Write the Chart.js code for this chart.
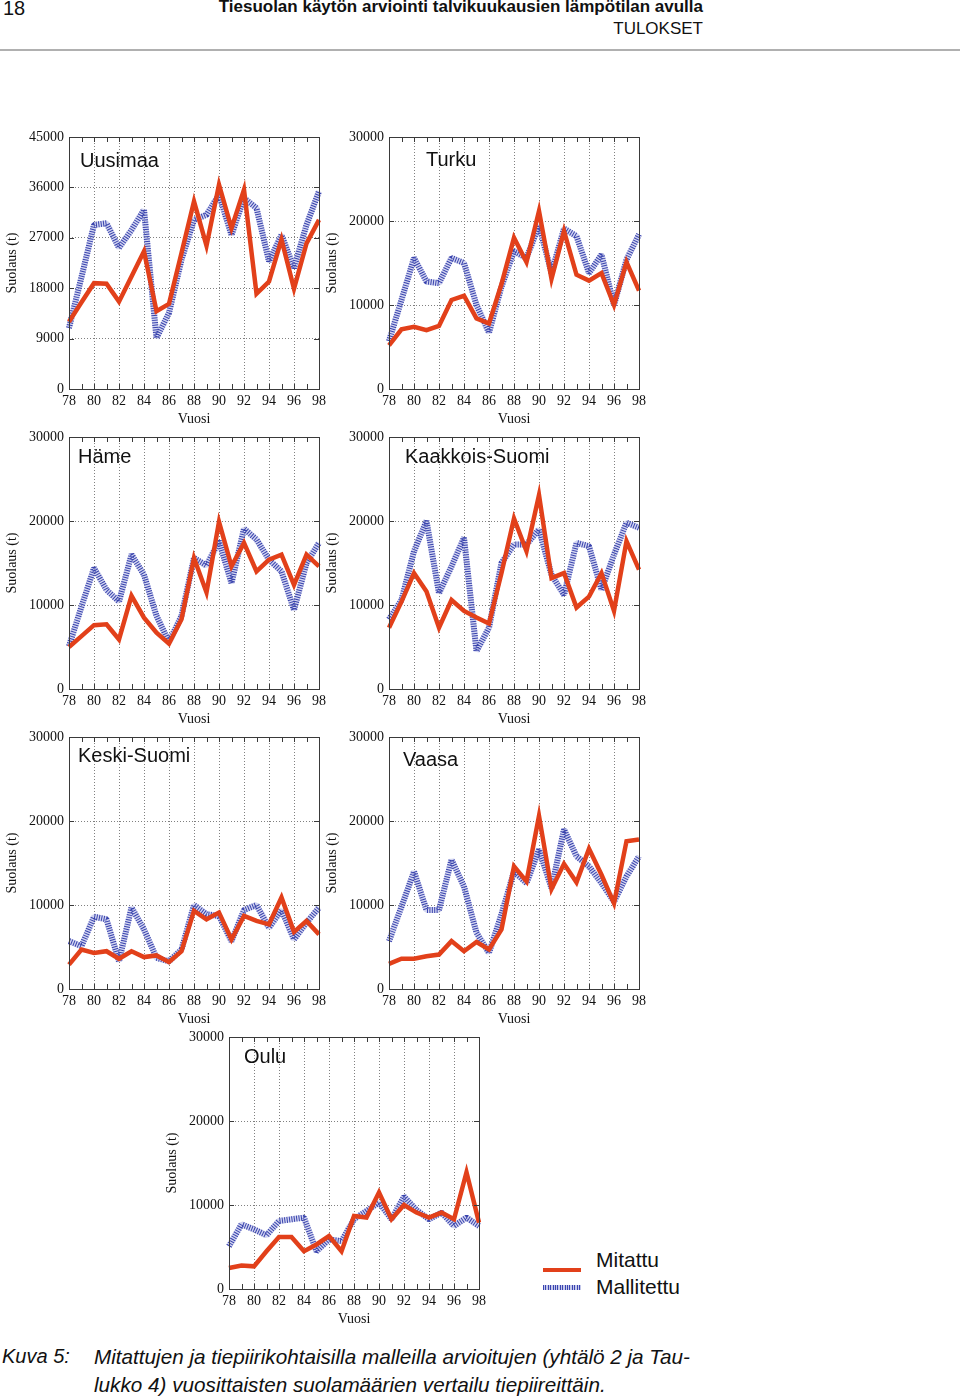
<!DOCTYPE html>
<html lang="fi">
<head>
<meta charset="utf-8">
<script src="https://cdn.jsdelivr.net/npm/chart.js@4.4.1/dist/chart.umd.min.js"></script>
<style>
  body { margin: 0; width: 960px; height: 1397px; position: relative; background: #fff; overflow: hidden;
         font-family: 'Liberation Sans', Arial, sans-serif; color: #111; }
  .teksti { position: absolute; white-space: nowrap; }
  .kapea { font-family: 'Liberation Sans Narrow', 'Liberation Sans', Arial, sans-serif; }
  canvas { position: absolute; }
</style>
</head>
<body>
<div class="teksti kapea" style="left:3px;top:-3px;font-size:20px;">18</div>
<div class="teksti kapea" style="right:257px;top:-3px;font-size:17px;font-weight:bold;">Tiesuolan käytön arviointi talvikuukausien lämpötilan avulla</div>
<div class="teksti kapea" style="right:257px;top:19px;font-size:17px;">TULOKSET</div>
<div style="position:absolute;left:0;top:49px;width:960px;height:2px;background:#b0b0b0;"></div>

<div id="kaaviot"></div>

<!-- selite -->
<div style="position:absolute;left:543px;top:1268px;width:38px;height:4px;background:#e2401a;"></div>
<div style="position:absolute;left:543px;top:1285px;width:38px;height:5px;background:repeating-linear-gradient(90deg,#3a44b0 0 1px,#c4c8ea 1px 2.4px);"></div>
<div class="teksti" style="left:596px;top:1248px;font-size:21px;">Mitattu</div>
<div class="teksti" style="left:596px;top:1275px;width:83px;overflow:hidden;font-size:21px;">Mallitettu</div>

<div class="teksti kapea" style="left:2px;top:1345px;font-size:20px;font-style:italic;">Kuva 5:</div>
<div class="teksti kapea" style="left:94px;top:1345px;font-size:20.7px;font-style:italic;">Mitattujen ja tiepiirikohtaisilla malleilla arvioitujen (yhtälö 2 ja Tau-</div>
<div class="teksti kapea" style="left:94px;top:1373px;font-size:20.7px;font-style:italic;">lukko 4) vuosittaisten suolamäärien vertailu tiepiireittäin.</div>

<script>
// vuodet (x-akseli)
const vuodet = ['78','79','80','81','82','83','84','85','86','87','88','89','90','91','92','93','94','95','96','97','98'];

// Uusimaa
const uusimaaMitattu    = [12000,15500,18900,18800,15600,20100,24600,13900,15200,24300,33500,25600,36500,28700,35600,17000,19200,26700,17900,26000,30200];
const uusimaaMallitettu = [10900,20000,29300,29600,25200,28400,32000, 9100,13600,23100,30200,31100,34700,27500,34100,32300,22800,27500,21600,29300,35300];

// Turku
const turkuMitattu    = [5200,7100,7400,7000,7500,10600,11100,8400,7800,12500,18000,15100,21200,13100,18800,13600,12900,13800,10000,15100,11700];
const turkuMallitettu = [5700,10600,15600,12800,12600,15600,15000,10000,6700,12200,16400,15600,19500,13800,19100,18200,13800,16000,10000,15400,18400];

// Häme
const hameMitattu    = [5000,6300,7600,7700,5900,11100,8500,6700,5400,8300,15600,11500,19900,14600,17400,14000,15400,16000,12400,16000,14600];
const hameMallitettu = [5100,9800,14400,11800,10400,16000,13600,8700,5600,8700,15600,14700,17600,12600,19100,17800,15400,14000,9400,15000,17400];

// Kaakkois-Suomi
const kaakkoisMitattu    = [7300,10400,13800,11600,7300,10600,9300,8500,7800,13800,20300,16400,23100,13200,13800,9700,11000,13800,9300,17600,14200];
const kaakkoisMallitettu = [8300,10600,16400,20000,11400,14600,18000,4500,7300,15000,17200,17200,19000,13600,11200,17400,17000,11800,16000,19800,19200];

// Keski-Suomi
const keskiMitattu    = [2900,4700,4300,4500,3600,4500,3800,4000,3200,4500,9300,8300,9100,5900,8700,8100,7700,10900,6800,8100,6500];
const keskiMallitettu = [5700,5100,8600,8300,3300,9700,7100,3700,3300,4700,10000,8900,8700,5700,9400,10000,7300,9400,5900,7900,9700];

// Vaasa
const vaasaMitattu    = [3000,3600,3600,3900,4100,5700,4500,5600,4700,7100,14600,12800,20600,11900,14900,12700,16700,13600,10200,17600,17800];
const vaasaMallitettu = [5700,9800,14000,9400,9400,15400,12200,6700,4300,8900,14000,12600,16600,12000,19000,15800,14600,12600,10400,13400,15800];

// Oulu
const ouluMitattu    = [2500,2800,2700,4500,6200,6200,4500,5300,6300,4500,8700,8500,11500,8300,10000,9100,8500,9100,8300,13900,7900];
const ouluMallitettu = [5100,7700,7100,6400,8100,8300,8500,4500,5900,5700,8300,9300,10300,8300,11000,9400,8300,9100,7500,8500,7500];

const paneelit = [
  { nimi: 'Uusimaa', mitattu: uusimaaMitattu, mallitettu: uusimaaMallitettu, yMax: 45000, yAskel: 9000, vasen: 0, yla: 120, dx: 11, dy: 24 },
  { nimi: 'Turku', mitattu: turkuMitattu, mallitettu: turkuMallitettu, yMax: 30000, yAskel: 10000, vasen: 320, yla: 120, dx: 37, dy: 23 },
  { nimi: 'Häme', mitattu: hameMitattu, mallitettu: hameMallitettu, yMax: 30000, yAskel: 10000, vasen: 0, yla: 420, dx: 9, dy: 20 },
  { nimi: 'Kaakkois-Suomi', mitattu: kaakkoisMitattu, mallitettu: kaakkoisMallitettu, yMax: 30000, yAskel: 10000, vasen: 320, yla: 420, dx: 16, dy: 20 },
  { nimi: 'Keski-Suomi', mitattu: keskiMitattu, mallitettu: keskiMallitettu, yMax: 30000, yAskel: 10000, vasen: 0, yla: 720, dx: 9, dy: 19 },
  { nimi: 'Vaasa', mitattu: vaasaMitattu, mallitettu: vaasaMallitettu, yMax: 30000, yAskel: 10000, vasen: 320, yla: 720, dx: 14, dy: 23 },
  { nimi: 'Oulu', mitattu: ouluMitattu, mallitettu: ouluMallitettu, yMax: 30000, yAskel: 10000, vasen: 160, yla: 1020, dx: 15, dy: 20 }
];

const serif = "'Liberation Serif', 'Times New Roman', serif";

// kehys, sisäänpäin osoittavat merkit ja paneelin nimi
const kehysPlugin = {
  id: 'kehys',
  afterDraw(chart, args, opts) {
    const { ctx, chartArea: a, scales: { x, y } } = chart;
    ctx.save();
    ctx.strokeStyle = '#3a3a3a';
    ctx.lineWidth = 1;
    ctx.strokeRect(Math.round(a.left) + 0.5, Math.round(a.top) + 0.5, Math.round(a.right - a.left), Math.round(a.bottom - a.top));
    ctx.beginPath();
    vuodet.forEach((v, i) => {
      const px = Math.round(x.getPixelForValue(i)) + 0.5;
      ctx.moveTo(px, a.bottom); ctx.lineTo(px, a.bottom - 5);
      ctx.moveTo(px, a.top); ctx.lineTo(px, a.top + 5);
    });
    y.ticks.forEach(t => {
      const py = Math.round(y.getPixelForValue(t.value)) + 0.5;
      ctx.moveTo(a.left, py); ctx.lineTo(a.left + 5, py);
      ctx.moveTo(a.right, py); ctx.lineTo(a.right - 5, py);
    });
    ctx.stroke();
    ctx.fillStyle = '#111';
    ctx.font = "20px 'Liberation Sans', Arial, sans-serif";
    ctx.textBaseline = 'middle';
    ctx.fillText(opts.nimi, a.left + opts.dx, a.top + opts.dy);
    ctx.restore();
  }
};

const kaaviot = document.getElementById('kaaviot');

paneelit.forEach(p => {
  const canvas = document.createElement('canvas');
  canvas.width = 330;
  canvas.height = 310;
  canvas.style.left = p.vasen + 'px';
  canvas.style.top = p.yla + 'px';
  kaaviot.appendChild(canvas);

  new Chart(canvas.getContext('2d'), {
    type: 'line',
    data: {
      labels: vuodet,
      datasets: [
        {
          label: 'Mitattu',
          data: p.mitattu,
          borderColor: '#e2401a',
          borderWidth: 4.5,
          borderJoinStyle: 'miter',
          pointRadius: 0,
          tension: 0
        },
        {
          label: 'Mallitettu',
          data: p.mallitettu,
          borderColor: '#3943ad',
          borderWidth: 6,
          borderDash: [1, 1.4],
          borderCapStyle: 'butt',
          borderJoinStyle: 'bevel',
          pointRadius: 0,
          tension: 0
        },
        {
          label: 'Mallitettu (tausta)',
          data: p.mallitettu,
          borderColor: 'rgba(165,172,228,0.5)',
          borderWidth: 6,
          borderJoinStyle: 'bevel',
          pointRadius: 0,
          tension: 0
        }
      ]
    },
    options: {
      responsive: false,
      animation: false,
      layout: { padding: { left: 0, right: 10, top: 17, bottom: 0 } },
      plugins: {
        legend: { display: false },
        tooltip: { enabled: false },
        kehys: { nimi: p.nimi, dx: p.dx, dy: p.dy }
      },
      scales: {
        x: {
          type: 'category',
          offset: false,
          afterFit: s => { s.height = 41; },
          border: { display: false, dash: [1, 2] },
          grid: {
            drawTicks: false,
            color: c => (c.index % 2 === 0 ? '#808080' : 'rgba(0,0,0,0)'),
            lineWidth: 1
          },
          ticks: {
            autoSkip: false,
            maxRotation: 0,
            padding: 4,
            color: '#111',
            font: { family: serif, size: 14 },
            callback: (v, i) => (i % 2 === 0 ? vuodet[i] : '')
          },
          title: { display: true, text: 'Vuosi', color: '#111', font: { family: serif, size: 14 }, padding: { top: 0, bottom: 2 } }
        },
        y: {
          min: 0,
          max: p.yMax,
          afterFit: s => { s.width = 69; },
          border: { display: false, dash: [1, 2] },
          grid: { drawTicks: false, color: '#808080', lineWidth: 1 },
          ticks: {
            stepSize: p.yAskel,
            padding: 5,
            color: '#111',
            font: { family: serif, size: 14 },
            callback: v => String(v)
          },
          title: { display: true, text: 'Suolaus (t)', color: '#111', font: { family: serif, size: 14 }, padding: { top: 4, bottom: 0 } }
        }
      }
    },
    plugins: [kehysPlugin]
  });
});
</script>
</body>
</html>
